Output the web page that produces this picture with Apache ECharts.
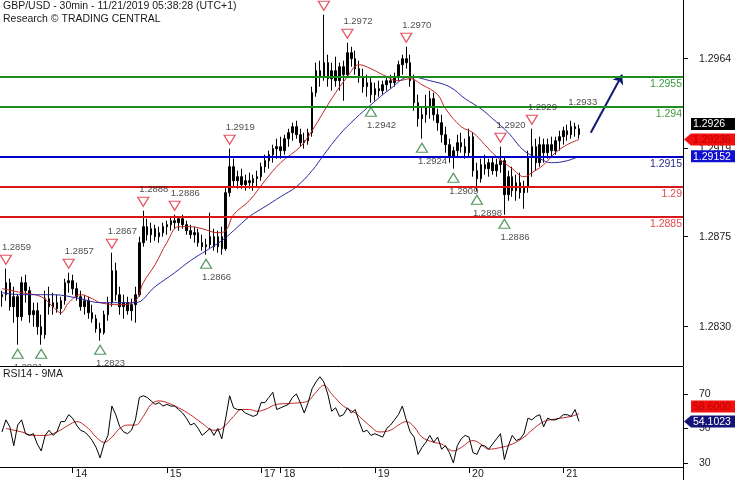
<!DOCTYPE html>
<html><head><meta charset="utf-8">
<script src="https://cdn.jsdelivr.net/npm/echarts@6/dist/echarts.min.js"></script>
<style>html,body{margin:0;padding:0;background:#fff}#c{width:735px;height:480px}</style>
</head><body><div id="c"></div>
<script>
// ---------- DATA (prices in pips: 2845 = 1.2845) ----------
const open = [
 2845,2846,2852,2840,2845,2835,2852,2848,2836,2838,2830,2826,2844,2840,2842,2839,2843,2852,
 2853,2849,2845,2840,2843,2837,2834,2829,2827,2836,2842,2858,2846,2840,2842,2838,2841,2846,2872,2880,2876,2879,2875,2877,
 2880,2881,2883,2882,2884,2881,2878,2876,2877,2872,2870,2871,2875,2870,2875,2869,2897,2910,2903,2905,2901,2903,2902,2904,
 2905,2910,2913,2916,2919,
 2920,2918,2924,2927,2930,2926,2922,2923,2927,2947,2958,2955,2962,2954,2958,2953,2960,2956,2967,2964,2959,2955,2950,2952,
 2946,2949,2948,2951,2953,2952,2955,2961,2964,2962,2953,2942,2934,2936,2940,2944,2936,2932,2926,2921,2915,2918,2922,2920,
 2917,2925,2908,2904,2911,2909,2912,2908,2911,2913,2896,2905,2898,2902,2897,2900,2915,2920,2912,2921,2917,2921,2918,2923,
 2925,2928,2926,2930,2929];
const high = [
 2848,2859,2854,2850,2846,2855,2856,2850,2842,2842,2836,2848,2850,2847,2846,2845,2854,2857,
 2856,2852,2848,2846,2845,2841,2836,2832,2838,2845,2867,2862,2850,2846,2845,2844,2850,2875,2888,2884,2882,2881,2880,2882,
 2883,2885,2886,2885,2886,2883,2881,2880,2879,2876,2874,2887,2879,2878,2880,2900,2919,2914,2908,2909,2906,2907,2906,2908,
 2912,2916,2918,2921,2924,
 2925,2926,2929,2932,2933,2929,2927,2929,2950,2962,2963,2986,2966,2962,2965,2962,2963,2972,2970,2968,2963,2959,2956,2955,
 2952,2953,2953,2955,2956,2957,2963,2966,2970,2966,2956,2946,2940,2946,2948,2947,2939,2936,2930,2924,2920,2926,2927,2924,
 2929,2927,2912,2914,2916,2914,2915,2914,2920,2915,2908,2910,2906,2907,2903,2918,2929,2924,2925,2924,2924,2925,2925,2928,
 2930,2931,2933,2932,2931];
const low = [
 2840,2843,2838,2832,2821,2833,2842,2832,2830,2826,2821,2824,2836,2836,2837,2836,2841,2847,
 2846,2843,2838,2836,2834,2832,2827,2823,2826,2833,2840,2843,2836,2834,2836,2833,2832,2845,2870,2873,2872,2873,2872,2875,
 2876,2878,2879,2878,2879,2876,2874,2872,2870,2868,2866,2869,2868,2867,2866,2868,2895,2900,2899,2899,2898,2899,2898,2900,
 2903,2907,2909,2912,2914,
 2914,2916,2920,2923,2924,2920,2919,2921,2925,2945,2950,2953,2950,2948,2950,2948,2943,2955,2960,2956,2952,2947,2945,2942,
 2943,2945,2946,2948,2949,2950,2953,2956,2959,2950,2938,2930,2924,2932,2934,2933,2928,2922,2917,2912,2909,2915,2917,2914,
 2915,2905,2898,2902,2906,2905,2906,2905,2907,2886,2893,2895,2893,2894,2889,2897,2905,2908,2910,2912,2914,2915,2916,2918,
 2921,2923,2924,2925,2924];
const close = [
 2846,2852,2840,2845,2835,2852,2848,2836,2838,2830,2826,2844,2840,2842,2839,2843,2852,2853,
 2849,2845,2840,2843,2837,2834,2829,2827,2836,2842,2858,2846,2840,2842,2838,2841,2846,2872,2880,2876,2879,2875,2877,2880,
 2881,2883,2882,2884,2881,2878,2876,2877,2872,2870,2871,2875,2870,2875,2869,2897,2910,2903,2905,2901,2903,2902,2904,2905,
 2910,2913,2916,2919,2920,
 2918,2924,2927,2930,2926,2922,2923,2927,2947,2958,2955,2962,2954,2958,2953,2960,2956,2967,2964,2959,2955,2950,2952,2946,
 2949,2948,2951,2953,2952,2955,2961,2964,2962,2953,2942,2934,2936,2940,2944,2936,2932,2926,2921,2915,2918,2922,2920,2917,
 2925,2908,2904,2911,2909,2912,2908,2911,2913,2896,2905,2898,2902,2897,2900,2915,2920,2912,2921,2917,2921,2918,2923,2925,
 2928,2926,2930,2929,2926];

// moving averages (sparse readings at bar indices)
const redMaCats = [0,5,10,13,15,17,20,23,25,30,34,36,39,42,45,48,51,55,57,59,63,67,71,76,79,84,88,91,94,97,101,104,107,111,113,117,120,123,126,130,133,135,138,141,144,147];
const redMaVals = [2849,2847,2845,2840,2837,2842,2846,2844,2842,2841,2843,2852,2861,2872,2880,2880,2879,2877,2878,2886,2893,2903,2912,2920,2928,2944,2955,2961,2959,2956,2953,2954,2951,2946,2939,2930,2927,2921,2915,2909,2905,2907,2911,2917,2921,2923.6];
const blueMaCats = [0,5,13,20,25,31,34,39,44,48,52,56,59,63,67,71,75,79,82,86,90,94,99,104,109,114,118,122,125,129,133,137,140,144,147];
const blueMaVals = [2847,2846,2846,2844,2842,2842,2842,2850,2857,2863,2868,2873,2878,2885,2890,2895,2900,2908,2916,2926,2934,2941,2949,2955,2953,2950,2944,2939,2934,2927,2918,2914,2912,2913,2915.2];

// RSI14 per bar
const rsi = [
 48,55,51,40,52,55,47,46,47,41,37,46,49,46,48,54,54,58,
 56,52,49,48,46,43,39,33,41,46,63,58,51,48,47,49,55,68,69,68,66,64,65,63,
 64,63,63,61,59,56,52,53,50,46,48,50,46,50,44,56,69,62,61,61,59,58,57,58,
 65,65,68,71,61,
 62,63,64,68,70,65,59,65,73,77,80,77,70,60,62,57,58,62,59,61,54,48,49,46,
 47,46,45,50,52,55,58,63,55,48,45,35,39,42,46,42,45,38,40,36,30,40,44,46,
 45,36,35,40,40,38,41,44,47,32,40,46,43,44,47,56,55,57,58,51,56,55,55,56,
 58,58,57,61,54.1023];
const rsiMaCats = [1,5,8,11,14,17,19,22,24,26,28,30,32,34,36,38,40,42,45,48,51,54,56,59,61,63,65,67,70,73,76,78,80,82,84,87,90,92,94,96,99,101,103,105,107,110,112,115,117,120,122,124,127,130,133,135,138,141,145,147];
const rsiMaVals = [50,48,46,46,48,52,54,50,45,42,45,50,52,52,57,64,66,65,62,58,53,49,50,57,61,61,60,61,64,64.5,65,66,71,75,70,63,59,55,51,48,49,52,54,51,45,42,41,37,39,43,41,38,39,41,45,49,54,55.5,57,58.6];

// annotations
const peakCats = [1,17,28,36,44,58,82,88,103,127,135];
const peakVals = [1.2859,1.2857,1.2867,1.2888,1.2886,1.2919,1.2986,1.2972,1.2970,1.2920,1.2929];
const peakLabels = ['1.2859','1.2857','1.2867','1.2888','1.2886','1.2919','','1.2972','1.2970','1.2920','1.2929'];
const troughCats = [4,10,25,52,94,107,115,121,128];
const troughVals = [1.2821,1.2821,1.2823,1.2866,1.2942,1.2924,1.2909,1.2898,1.2886];
const troughLabels = ['1.2821','','1.2823','1.2866','1.2942','1.2924','1.2909','1.2898','1.2886'];
const lastHighCat = 145, lastHighVal = 1.2933, lastHighLabel = '1.2933';

const levelVals = [1.2955, 1.294, 1.2915, 1.29, 1.2885];
const levelText = ['1.2955','1.294','1.2915','1.29','1.2885'];
const levelColors = ['#1e8c1e','#1e8c1e','#0000c8','#d81818','#d81818'];
const levelLabelColors = ['#3f9a3f','#3f9a3f','#2c2c90','#e04a4a','#e04a4a'];

const arrowFrom = [150, 1.2927], arrowTo = [158, 1.2956];

const mainTicks = [1.2830, 1.2875, 1.2919, 1.2964];
const rsiTicks = [30, 50, 70];
const dayCats = [18,42,66,71,95,119,143];
const dayLabels = ['14','15','17','18','19','20','21'];
const lastPrice = 1.2926;
const NCAT = 174;

// ---------- CHART ----------
const FONT = '"Liberation Sans", Arial, sans-serif';
const toPrice = p => p / 10000 + 1;
const cats = [];
for (let i = 0; i < NCAT; i++) cats.push('c' + i);
const candles = open.map((o, i) => [toPrice(o), toPrice(close[i]), toPrice(low[i]), toPrice(high[i])]);

const downTri = 'path://M0,0L10,0L5,9Z';
const upTri = 'path://M5,0L10,9L0,9Z';

const chart = echarts.init(document.getElementById('c'));
const option = {
  animation: false,
  backgroundColor: '#fff',
  textStyle: {fontFamily: FONT},
  grid: [
    {left: 0, right: 52, top: 0, height: 366},
    {left: 0, right: 52, top: 367, height: 100}
  ],
  xAxis: [
    {type: 'category', gridIndex: 0, data: cats, boundaryGap: true,
     axisLine: {show: true, lineStyle: {color: '#000', width: 1}},
     axisTick: {show: false}, axisLabel: {show: false}, splitLine: {show: false}},
    {type: 'category', gridIndex: 1, data: cats, boundaryGap: true,
     axisLine: {show: true, lineStyle: {color: '#000', width: 1}},
     axisTick: {show: true, alignWithLabel: true, interval: (i) => dayCats.includes(i), length: 6, lineStyle: {color: '#000'}},
     axisLabel: {interval: (i) => dayCats.includes(i), formatter: (v, i) => dayLabels[dayCats.indexOf(i)] || '',
       align: 'left', margin: 2, padding: [0, 0, 0, 3], color: '#222', fontSize: 10.5, fontFamily: FONT},
     splitLine: {show: false}}
  ],
  yAxis: [
    {type: 'value', gridIndex: 0, position: 'right', min: 1.281035, max: 1.299335,
     axisLine: {show: true, lineStyle: {color: '#000'}},
     axisTick: {show: true, length: 5, customValues: mainTicks, lineStyle: {color: '#000'}},
     axisLabel: {customValues: mainTicks, formatter: v => v.toFixed(4), margin: 16, color: '#222', fontSize: 10.5, fontFamily: FONT},
     splitLine: {show: false}},
    {type: 'value', gridIndex: 1, position: 'right', min: 27.68, max: 85.65,
     axisLine: {show: true, lineStyle: {color: '#000'}},
     axisTick: {show: true, length: 5, customValues: rsiTicks, lineStyle: {color: '#000'}},
     axisLabel: {customValues: rsiTicks, formatter: v => String(v), margin: 16, color: '#222', fontSize: 10.5, fontFamily: FONT},
     splitLine: {show: false}}
  ],
  series: [
    {type: 'candlestick', xAxisIndex: 0, yAxisIndex: 0, data: candles, barWidth: 2,
     itemStyle: {color: '#000', color0: '#000', borderColor: '#000', borderColor0: '#000', borderWidth: 1}},
    {type: 'line', xAxisIndex: 0, yAxisIndex: 0, data: redMaCats.map((c, i) => ['c' + c, toPrice(redMaVals[i])]),
     smooth: 0.4, symbol: 'none', lineStyle: {color: '#c02828', width: 1}, z: 3,
     markLine: {silent: true, symbol: ['none', 'arrow'], symbolSize: 9, animation: false, precision: 5,
       data: [[{coord: ['c' + arrowFrom[0], arrowFrom[1]]}, {coord: ['c' + arrowTo[0], arrowTo[1]]}]],
       lineStyle: {color: '#0f1a6e', width: 2, type: 'solid'}, label: {show: false}}},
    {type: 'line', xAxisIndex: 0, yAxisIndex: 0, data: blueMaCats.map((c, i) => ['c' + c, toPrice(blueMaVals[i])]),
     smooth: 0.4, symbol: 'none', lineStyle: {color: '#2a2aa0', width: 1}, z: 3,
     markLine: {silent: true, symbol: ['none', 'none'], animation: false, precision: 5,
       data: levelVals.map((v, i) => ({yAxis: v,
         lineStyle: {color: levelColors[i], width: 2, type: 'solid'},
         label: {show: true, position: 'insideEndBottom', formatter: levelText[i], color: levelLabelColors[i],
                 fontSize: 10.5, fontFamily: FONT, distance: [1, 2]}}))}},
    {type: 'scatter', xAxisIndex: 0, yAxisIndex: 0, z: 5,
     data: peakCats.map((c, i) => ['c' + c, peakVals[i]]),
     symbol: downTri, symbolSize: [11, 9], symbolOffset: [0, -9],
     itemStyle: {color: 'rgba(255,255,255,0.5)', borderColor: '#e0283a', borderWidth: 1.2},
     label: {show: true, position: 'top', distance: 2, align: 'left', offset: [-4, 0],
       formatter: p => peakLabels[p.dataIndex], color: '#222', fontSize: 9.5, fontFamily: FONT}},
    {type: 'scatter', xAxisIndex: 0, yAxisIndex: 0, z: 5,
     data: troughCats.map((c, i) => ['c' + c, troughVals[i]]),
     symbol: upTri, symbolSize: [11, 9], symbolOffset: [0, 9],
     itemStyle: {color: 'rgba(255,255,255,0.5)', borderColor: '#2e7d3a', borderWidth: 1.2},
     label: {show: true, position: 'bottom', distance: 4, align: 'left', offset: [-4, 0],
       formatter: p => troughLabels[p.dataIndex], color: '#222', fontSize: 9.5, fontFamily: FONT}},
    {type: 'scatter', xAxisIndex: 0, yAxisIndex: 0, z: 5,
     data: [['c' + lastHighCat, lastHighVal]], symbol: 'circle', symbolSize: 0.1,
     itemStyle: {color: 'rgba(0,0,0,0)'},
     label: {show: true, position: 'top', distance: 13, align: 'left', offset: [-3, 0],
       formatter: lastHighLabel, color: '#222', fontSize: 9.5, fontFamily: FONT}},
    {type: 'line', xAxisIndex: 1, yAxisIndex: 1, data: rsi, symbol: 'none',
     lineStyle: {color: '#000', width: 1}, z: 4},
    {type: 'line', xAxisIndex: 1, yAxisIndex: 1, data: rsiMaCats.map((c, i) => ['c' + c, rsiMaVals[i]]),
     smooth: 0.4, symbol: 'none', lineStyle: {color: '#c02828', width: 1}, z: 3}
  ]
};
chart.setOption(option);

// ---------- value tags & texts ----------
const py = (yi, v) => chart.convertToPixel({yAxisIndex: yi}, v);
const tagFont = '10.5px ' + FONT;
function tag(cy, fill, text, color, arrow) {
  const shape = arrow
    ? {type: 'polygon', shape: {points: [[684, cy], [691, cy - 6], [735, cy - 6], [735, cy + 6], [691, cy + 6]]}}
    : {type: 'rect', shape: {x: 691, y: cy - 6, width: 44, height: 12}};
  shape.style = {fill: fill};
  shape.z = 50;
  return [shape, {type: 'text', x: 693, y: cy + 0.5, z: 51,
    style: {text: text, fill: color, font: tagFont, verticalAlign: 'middle', textVerticalAlign: 'middle'}}];
}
const redLast = toPrice(redMaVals[redMaVals.length - 1]);
const blueLast = toPrice(blueMaVals[blueMaVals.length - 1]);
const yRed = py(0, redLast);
const yBlue = py(0, blueLast);
const yBlack = Math.min(py(0, lastPrice), yRed - 15.5);
const rsiLast = rsi[rsi.length - 1];
const rsiMaLast = rsiMaVals[rsiMaVals.length - 1];
const yRsi = py(1, rsiLast);
const yRsiMa = Math.min(py(1, rsiMaLast), yRsi - 15);

const graphics = [
  {type: 'text', left: 3, top: 1, z: 60, style: {text: 'GBP/USD - 30min - 11/21/2019 05:38:28 (UTC+1)', fill: '#1a1a1a', font: '10.5px ' + FONT}},
  {type: 'text', left: 3, top: 14, z: 60, style: {text: 'Research \u00A9 TRADING CENTRAL', fill: '#1a1a1a', font: '10.5px ' + FONT}},
  {type: 'rect', shape: {x: 0, y: 367, width: 683, height: 7}, style: {fill: '#fff'}, z: 100},
  {type: 'text', left: 3, top: 369, z: 101, style: {text: 'RSI14 - 9MA', fill: '#1a1a1a', font: '10.5px ' + FONT}},
  {type: 'line', shape: {x1: 683.5, y1: 467, x2: 683.5, y2: 480}, style: {stroke: '#000', lineWidth: 1}, z: 60}
]
  .concat(tag(yBlack, '#000', lastPrice.toFixed(4), '#fff', false))
  .concat(tag(yRed, '#f01010', redLast.toFixed(5), '#c00000', true))
  .concat(tag(yBlue, '#1010d0', blueLast.toFixed(5), '#fff', false))
  .concat(tag(yRsiMa, '#f01010', rsiMaLast.toFixed(4), '#c00000', false))
  .concat(tag(yRsi, '#141478', rsiLast.toFixed(4), '#fff', true));
chart.setOption({graphic: graphics});
</script></body></html>
